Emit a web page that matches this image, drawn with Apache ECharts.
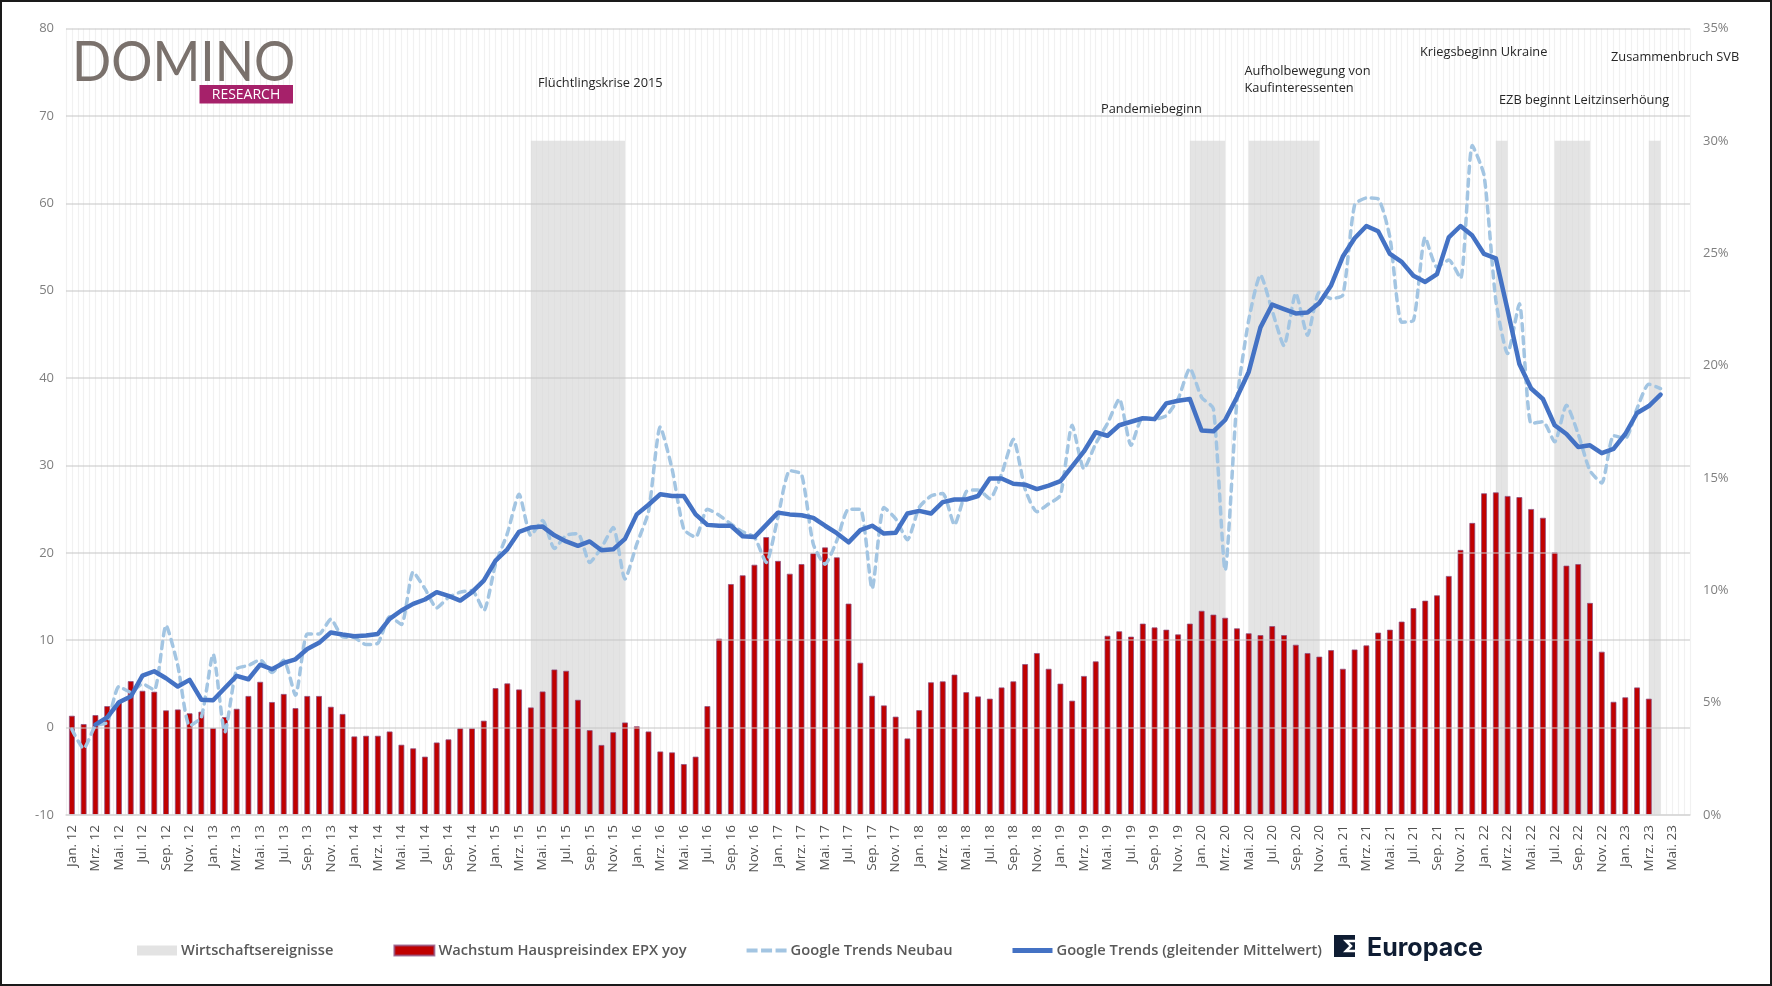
<!DOCTYPE html>
<html>
<head>
<meta charset="utf-8">
<script src="https://cdn.jsdelivr.net/npm/echarts@6/dist/echarts.min.js"></script>
<style>
  html, body { margin: 0; padding: 0; background: #fff; }
  #main { width: 1772px; height: 986px; }
</style>
</head>
<body>
<div id="main"></div>
<script>
var monthNames = ['Jan.', 'Feb.', 'Mrz.', 'Apr.', 'Mai.', 'Jun.', 'Jul.', 'Aug.', 'Sep.', 'Okt.', 'Nov.', 'Dez.'];
var years = ['12', '13', '14', '15', '16', '17', '18', '19', '20', '21', '22', '23'];

// Wachstum Hauspreisindex EPX yoy (rechte Achse, %)
var hausPreise = [
    4.42, 4.05, 4.45, 4.85, 5.05, 5.96, 5.53, 5.49, 4.66, 4.70, 4.53, 4.60,
    3.87, 4.36, 4.73, 5.30, 5.93, 5.03, 5.39, 4.76, 5.30, 5.30, 4.82, 4.50,
    3.50, 3.53, 3.53, 3.72, 3.13, 2.97, 2.60, 3.23, 3.37, 3.86, 3.86, 4.20,
    5.65, 5.86, 5.59, 4.79, 5.50, 6.48, 6.42, 5.13, 3.78, 3.12, 3.69, 4.12,
    3.95, 3.72, 2.83, 2.79, 2.27, 2.60, 4.85, 7.85, 10.28, 10.67, 11.14, 12.37,
    11.31, 10.74, 11.17, 11.65, 11.91, 11.47, 9.41, 6.78, 5.31, 4.88, 4.38, 3.41,
    4.67, 5.91, 5.95, 6.25, 5.47, 5.28, 5.18, 5.68, 5.95, 6.72, 7.21, 6.51,
    5.85, 5.09, 6.19, 6.84, 7.98, 8.18, 7.94, 8.52, 8.35, 8.25, 8.04, 8.52,
    9.09, 8.92, 8.78, 8.31, 8.09, 8.01, 8.41, 8.01, 7.58, 7.21, 7.05, 7.34,
    6.51, 7.37, 7.55, 8.12, 8.25, 8.61, 9.21, 9.54, 9.78, 10.64, 11.80, 13.00,
    14.32, 14.36, 14.20, 14.15, 13.62, 13.23, 11.69, 11.10, 11.17, 9.44, 7.27, 5.04,
    5.24, 5.68, 5.18
];

// Google Trends Neubau (linke Achse)
var trendsNeubau = [
    -0.2, -2.4, 0.2, 0.6, 4.7, 4.05, 5.0, 4.3, 11.7, 7.1, 0.2, 1.2,
    8.4, -0.5, 6.7, 7.1, 7.75, 6.3, 7.7, 3.7, 10.7, 10.7, 12.4, 10.4,
    10.3, 9.5, 9.65, 12.7, 11.8, 17.8, 15.9, 13.7, 14.9, 15.5, 15.7, 13.4,
    18.7, 22.2, 26.7, 22.0, 23.7, 20.5, 22.0, 22.2, 18.9, 20.6, 22.9, 17.0,
    21.0, 24.7, 34.4, 29.6, 22.7, 21.8, 25.0, 24.3, 23.3, 22.4, 21.8, 18.9,
    24.1, 29.4, 29.0, 21.0, 18.7, 21.4, 25.0, 25.0, 15.9, 25.2, 23.9, 21.5,
    25.2, 26.5, 26.8, 23.2, 27.0, 27.2, 26.2, 29.0, 33.0, 27.3, 24.7, 25.6,
    26.6, 34.6, 29.6, 32.5, 34.8, 37.6, 32.3, 35.5, 35.3, 35.7, 37.6, 41.1,
    37.8, 36.5, 18.0, 37.4, 46.6, 51.8, 47.7, 43.7, 49.7, 44.9, 49.8, 49.1,
    49.5, 59.8, 60.6, 60.5, 56.1, 46.4, 46.6, 56.1, 52.7, 53.5, 51.4, 66.6,
    63.2, 48.9, 42.8, 48.5, 34.8, 35.0, 32.7, 36.9, 33.6, 29.4, 28.0, 33.4,
    33.1, 36.5, 39.3, 38.8
];

// Google Trends (gleitender Mittelwert), startet erst im Mrz. 12
var trendsMittel = [
    null, null, 0.34, 1.18, 2.9, 3.55, 5.95, 6.45, 5.65, 4.7, 5.46, 3.2,
    3.13, 4.54, 5.92, 5.53, 7.2, 6.68, 7.4, 7.82, 9.0, 9.7, 10.88, 10.65,
    10.46, 10.53, 10.72, 12.44, 13.4, 14.16, 14.66, 15.5, 15.08, 14.54, 15.5, 16.83,
    19.1, 20.4, 22.4, 22.9, 23.0, 22.0, 21.3, 20.8, 21.3, 20.3, 20.4, 21.6,
    24.4, 25.5, 26.7, 26.5, 26.5, 24.4, 23.2, 23.1, 23.1, 21.9, 21.8, 23.2,
    24.6, 24.4, 24.3, 24.0, 23.1, 22.25, 21.2, 22.6, 23.1, 22.2, 22.3, 24.5,
    24.8, 24.5, 25.8, 26.1, 26.1, 26.5, 28.5, 28.5, 27.9, 27.8, 27.3, 27.7,
    28.2, 29.9, 31.6, 33.8, 33.4, 34.6, 35.0, 35.4, 35.3, 37.1, 37.4, 37.6,
    34.0, 33.9, 35.2, 37.8, 40.7, 45.8, 48.4, 47.9, 47.4, 47.5, 48.6, 50.6,
    53.9, 56.0, 57.4, 56.8, 54.2, 53.3, 51.7, 51.0, 51.9, 56.1, 57.4, 56.3,
    54.2, 53.7, 47.8, 41.6, 38.8, 37.6, 34.6, 33.6, 32.1, 32.3, 31.4, 31.9,
    33.6, 36.0, 36.8, 38.1
];

// Wirtschaftsereignisse: von/bis als Monatsindex, Hoehe auf der rechten Achse
var eventRanges = [[39, 47], [95, 98], [100, 106], [121, 122], [126, 129], [134, 135]];
var eventLevel = 30;

var categories = [];
years.forEach(function (y) {
    monthNames.forEach(function (m) {
        if (y === '23' && categories.length >= 138) return;
        categories.push(m + ' ' + y);
    });
});

var events = categories.map(function (c, i) {
    var hit = eventRanges.some(function (r) { return i >= r[0] && i <= r[1]; });
    return hit ? eventLevel : null;
});

// zweite Kategorie-Achse nur fuer die feinen senkrechten Linien (halbe Monate)
var halfMonths = [];
categories.forEach(function () { halfMonths.push('', ''); });

var font = '"Open Sans", sans-serif';

function note(text, x, y) {
    return {
        type: 'text', x: x, y: y, z: 20,
        style: { text: text, font: '12.8px ' + font, fill: '#262626', textVerticalAlign: 'middle' }
    };
}

var myChart = echarts.init(document.getElementById('main'));
myChart.setOption({
    animation: false,
    backgroundColor: '#fff',
    grid: { left: 66, right: 82, top: 28.5, bottom: 171, containLabel: false },
    legend: {
        left: 137, top: 943, padding: 0,
        itemWidth: 40, itemHeight: 10, itemGap: 60,
        textStyle: { fontFamily: font, fontSize: 14.7, fontWeight: 600, color: '#595959', padding: [0, 0, 0, -1] },
        data: [
            { name: 'Wirtschaftsereignisse', icon: 'rect' },
            { name: 'Wachstum Hauspreisindex EPX yoy', icon: 'rect' },
            { name: 'Google Trends Neubau', icon: 'path://M0 0L0 0M40 10L40 10M0 3H11V7H0ZM14.5 3H25.5V7H14.5ZM29 3H40V7H29Z' },
            { name: 'Google Trends (gleitender Mittelwert)', icon: 'path://M0 0L0 0M40 10L40 10M0 2.5H40V7.5H0Z' }
        ]
    },
    xAxis: [
        {
            type: 'category', data: categories, boundaryGap: true, z: 3,
            axisLine: { onZero: false, lineStyle: { color: '#d9d9d9', width: 1.5 } },
            axisTick: { show: false },
            splitLine: { show: false },
            axisLabel: { interval: 1, rotate: 90, margin: 10, padding: [4, 0, 0, 0], fontFamily: font, fontSize: 13.5, color: '#505050' }
        },
        {
            type: 'category', data: halfMonths, boundaryGap: true, z: 0, silent: true,
            position: 'bottom',
            axisLine: { show: false }, axisTick: { show: false }, axisLabel: { show: false },
            splitLine: { show: true, interval: 0, lineStyle: { color: '#f1f1f1', width: 1.2 } }
        }
    ],
    yAxis: [
        {
            type: 'value', min: -10, max: 80, interval: 10, z: 3,
            axisLine: { show: false }, axisTick: { show: false },
            axisLabel: { margin: 12, fontFamily: font, fontSize: 13, color: '#7f7f7f' },
            splitLine: { show: true, lineStyle: { color: 'rgba(200,200,200,0.7)', width: 1.7 } }
        },
        {
            type: 'value', min: 0, max: 35, interval: 5, position: 'right', z: 3,
            axisLine: { show: false }, axisTick: { show: false },
            axisLabel: { margin: 13, formatter: '{value}%', fontFamily: font, fontSize: 13, color: '#7f7f7f' },
            splitLine: { show: false }
        }
    ],
    series: [
        {
            name: 'Wirtschaftsereignisse', type: 'line', yAxisIndex: 1, data: events,
            symbol: 'none', connectNulls: false, z: 1,
            itemStyle: { color: '#e3e3e3' },
            lineStyle: { width: 0 },
            areaStyle: { color: 'rgba(217,217,217,0.7)', opacity: 1, origin: 'start' }
        },
        {
            name: 'Wachstum Hauspreisindex EPX yoy', type: 'bar', yAxisIndex: 1, data: hausPreise,
            barWidth: 6, z: 2,
            itemStyle: { color: '#c00000', borderColor: 'rgba(140,80,130,0.75)', borderWidth: 1 }
        },
        {
            name: 'Google Trends Neubau', type: 'line', data: trendsNeubau,
            symbol: 'none', smooth: 0.2, z: 4,
            itemStyle: { color: '#a3c5e2' },
            lineStyle: { color: '#a3c5e2', width: 3.5, type: [7, 6], cap: 'round' }
        },
        {
            name: 'Google Trends (gleitender Mittelwert)', type: 'line', data: trendsMittel,
            symbol: 'none', z: 5,
            itemStyle: { color: '#4472c4' },
            lineStyle: { color: '#4472c4', width: 4.5, cap: 'round', join: 'round' }
        }
    ],
    graphic: [
        // Rahmen
        { type: 'rect', z: 30, silent: true, shape: { x: 1, y: 1, width: 1770, height: 984 }, style: { fill: null, stroke: '#1a1a1a', lineWidth: 2 } },
        // Logo Domino Research
        { type: 'text', x: 72, y: 63, z: 20, scaleX: 0.92, style: { text: 'DOMINO', font: '400 56px Lato, sans-serif', fill: '#7a716c', textVerticalAlign: 'middle' } },
        { type: 'rect', z: 20, shape: { x: 199.5, y: 85, width: 93.5, height: 18.5 }, style: { fill: '#a6216a' } },
        { type: 'text', x: 246, y: 95, z: 21, style: { text: 'RESEARCH', font: '14px ' + font, fill: '#fff', textAlign: 'center', textVerticalAlign: 'middle' } },
        // Ereignisse
        note('Flüchtlingskrise 2015', 538, 83.5),
        note('Pandemiebeginn', 1101, 109),
        note('Aufholbewegung von', 1244.5, 71),
        note('Kaufinteressenten', 1244.5, 88),
        note('Kriegsbeginn Ukraine', 1420, 52),
        note('Zusammenbruch SVB', 1611, 57),
        note('EZB beginnt Leitzinserhöung', 1499, 100),
        // Logo Europace
        { type: 'rect', z: 20, shape: { x: 1334, y: 935, width: 21, height: 22 }, style: { fill: '#0f1d33' } },
        { type: 'polyline', z: 21, shape: { points: [[1355, 941], [1346, 941], [1351, 946], [1346, 951], [1355, 951]] }, style: { fill: null, stroke: '#fff', lineWidth: 2.5 } },
        { type: 'text', x: 1367, y: 948, z: 20, style: { text: 'Europace', font: '700 25px Inter, sans-serif', fill: '#0f1d33', textVerticalAlign: 'middle' } }
    ]
});
</script>
</body>
</html>
